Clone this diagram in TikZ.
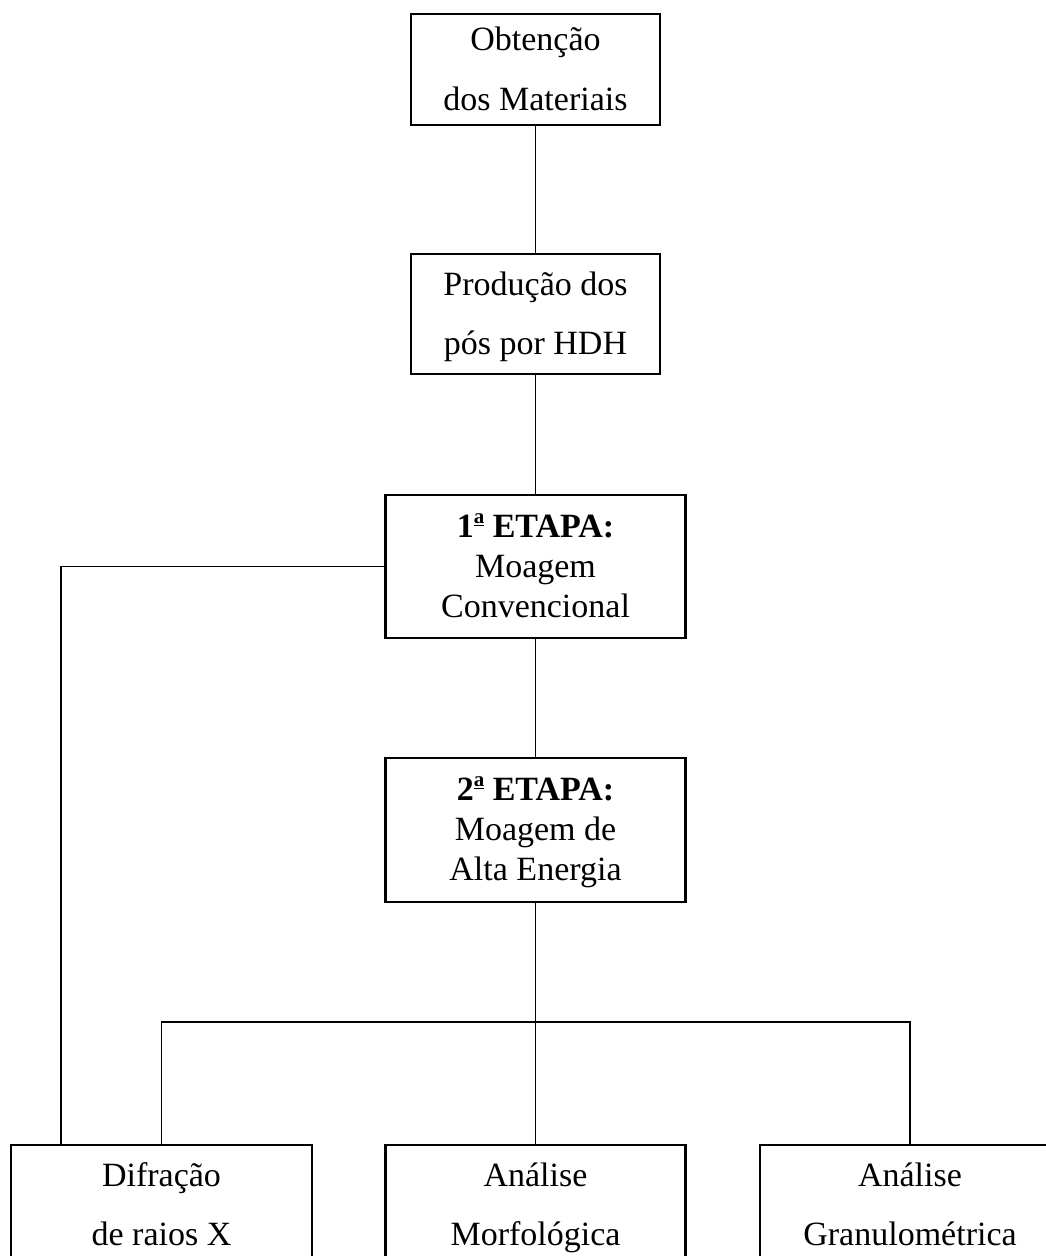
\documentclass[tikz,border=0pt]{standalone}
\usepackage{fontspec}
\setmainfont{Liberation Serif}
\newcommand{\ordA}{\raisebox{0.42em}{\fontsize{21}{21}\selectfont\underline{a}}}
\newcommand{\ph}{\vphantom{Ág}}
\begin{document}
\begin{tikzpicture}[x=1pt,y=-1pt,
  box/.style={draw=black, line width=2.2pt, rectangle, align=center, inner sep=0pt},
  twoline/.style={box, font=\fontsize{34}{59.5}\selectfont},
  threeline/.style={box, font=\fontsize{34}{40}\selectfont},
  conn/.style={draw=black, line width=1.8pt}]
\clip (0,0) rectangle (1046,1256);
\fill[white] (0,0) rectangle (1046,1256);
\node[twoline, minimum width=249pt, minimum height=111pt] (b1) at (535.5,69.5) {\ph Obtenção\\\ph dos Materiais};
\node[twoline, minimum width=249pt, minimum height=120pt] (b2) at (535.5,314) {\ph Produção dos\\\ph pós por HDH};
\node[threeline, minimum width=300pt, minimum height=143pt] (b3) at (535.5,566.5) {\ph\textbf{1\ordA{} ETAPA:}\\Moagem\\\ph Convencional};
\node[threeline, minimum width=300pt, minimum height=144pt] (b4) at (535.5,830) {\ph\textbf{2\ordA{} ETAPA:}\\Moagem de\\\ph Alta Energia};
\node[twoline, minimum width=301pt, minimum height=120pt] (b5) at (161.5,1205) {\ph Difração\\\ph de raios X};
\node[twoline, minimum width=300pt, minimum height=120pt] (b6) at (535.5,1205) {\ph Análise\\\ph Morfológica};
\node[twoline, minimum width=300pt, minimum height=120pt] (b7) at (910,1205) {\ph Análise\\\ph Granulométrica};
\coordinate (hj) at (535.5,1022);
\coordinate (lx) at (61,1145);
\draw[conn] (b1.south) -- (b2.north);
\draw[conn] (b2.south) -- (b3.north);
\draw[conn] (b3.south) -- (b4.north);
\draw[conn] (b4.south) -- (b6.north);
\draw[conn] (b5.north) |- (hj) -| (b7.north);
\draw[conn] (b3.west) -| (lx);
\end{tikzpicture}
\end{document}
